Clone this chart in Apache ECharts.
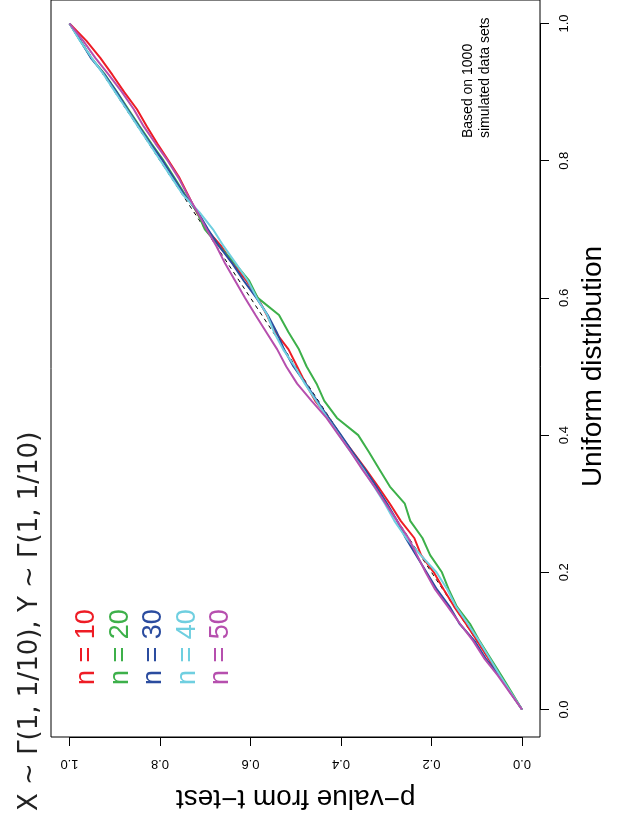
<!DOCTYPE html>
<html>
<head>
<meta charset="utf-8">
<script src="https://cdn.jsdelivr.net/npm/echarts@6/dist/echarts.min.js"></script>
<style>
  html, body { margin: 0; padding: 0; background: #fff; }
  #main { width: 641px; height: 825px; }
</style>
</head>
<body>
<div id="main"></div>
<script>
// quantiles of the uniform distribution (vertical axis), step 0.025
var uniformQ = [0, 0.025, 0.05, 0.075, 0.10, 0.125, 0.15, 0.175, 0.20, 0.225,
                0.25, 0.275, 0.30, 0.325, 0.35, 0.375, 0.40, 0.425, 0.45, 0.475,
                0.50, 0.525, 0.55, 0.575, 0.60, 0.625, 0.65, 0.675, 0.70, 0.725,
                0.75, 0.775, 0.80, 0.825, 0.85, 0.875, 0.90, 0.925, 0.95, 0.975, 1.0];
// sorted p-values from the t-test, one list per sample size
var pN10 = [0, 0.025, 0.050, 0.075, 0.099, 0.124, 0.150, 0.173, 0.195, 0.223,
            0.238, 0.268, 0.292, 0.318, 0.345, 0.373, 0.402, 0.427, 0.457, 0.478,
            0.497, 0.516, 0.545, 0.564, 0.584, 0.609, 0.639, 0.664, 0.697, 0.719,
            0.738, 0.757, 0.781, 0.806, 0.829, 0.851, 0.879, 0.905, 0.932, 0.963, 1.0];
var pN20 = [0, 0.023, 0.046, 0.070, 0.094, 0.115, 0.144, 0.162, 0.177, 0.203,
            0.220, 0.247, 0.259, 0.292, 0.315, 0.338, 0.362, 0.409, 0.437, 0.454,
            0.476, 0.493, 0.516, 0.537, 0.584, 0.603, 0.634, 0.669, 0.701, 0.718,
            0.744, 0.768, 0.792, 0.819, 0.845, 0.870, 0.895, 0.921, 0.952, 0.976, 1.0];
var pN30 = [0, 0.026, 0.051, 0.081, 0.105, 0.138, 0.160, 0.188, 0.211, 0.234,
            0.257, 0.276, 0.298, 0.322, 0.347, 0.374, 0.400, 0.427, 0.453, 0.478,
            0.505, 0.526, 0.542, 0.562, 0.587, 0.615, 0.640, 0.669, 0.694, 0.716,
            0.746, 0.770, 0.794, 0.821, 0.847, 0.872, 0.896, 0.922, 0.953, 0.976, 1.0];
var pN40 = [0, 0.025, 0.049, 0.072, 0.095, 0.120, 0.146, 0.165, 0.189, 0.224,
            0.256, 0.282, 0.303, 0.327, 0.351, 0.378, 0.404, 0.430, 0.455, 0.480,
            0.502, 0.528, 0.548, 0.563, 0.586, 0.606, 0.632, 0.659, 0.683, 0.713,
            0.749, 0.774, 0.799, 0.824, 0.849, 0.874, 0.899, 0.924, 0.951, 0.977, 1.0];
var pN50 = [0, 0.027, 0.054, 0.084, 0.108, 0.137, 0.164, 0.192, 0.213, 0.232,
            0.251, 0.276, 0.301, 0.326, 0.353, 0.378, 0.405, 0.432, 0.465, 0.497,
            0.521, 0.541, 0.565, 0.589, 0.612, 0.634, 0.656, 0.675, 0.697, 0.717,
            0.739, 0.759, 0.783, 0.810, 0.836, 0.858, 0.884, 0.913, 0.943, 0.970, 1.0];
var seriesNames = ['n = 10', 'n = 20', 'n = 30', 'n = 40', 'n = 50'];
var seriesColors = ['#EE1C25', '#3DB04A', '#2B4C9F', '#6FCFE0', '#B64FAE'];
var pLists = [pN10, pN20, pN30, pN40, pN50];
var tickValues = ['0.0', '0.2', '0.4', '0.6', '0.8', '1.0'];

var font = 'Liberation Sans, Arial, Helvetica, sans-serif';

function pairs(pList) {
    // x = p-value, y = uniform quantile
    return pList.map(function (p, i) { return [p, uniformQ[i]]; });
}

var series = [{
    type: 'line',
    xAxisIndex: 0,
    yAxisIndex: 0,
    data: [[0, 0], [1, 1]],
    showSymbol: false,
    silent: true,
    lineStyle: { color: '#000', width: 1, type: [4, 4] },
    z: 1
}];
pLists.forEach(function (pl, i) {
    series.push({
        name: seriesNames[i],
        type: 'line',
        xAxisIndex: 0,
        yAxisIndex: 0,
        data: pairs(pl),
        showSymbol: false,
        lineStyle: { color: seriesColors[i], width: 2 },
        itemStyle: { color: seriesColors[i] },
        z: 2 + i
    });
});

// legend written as rotated text, like the original
var graphics = seriesNames.map(function (name, i) {
    return {
        type: 'text',
        x: 87 + i * 33.5,
        y: 685,
        rotation: Math.PI / 2,
        style: {
            text: name,
            fill: seriesColors[i],
            font: '27px ' + font,
            align: 'left',
            verticalAlign: 'middle'
        }
    };
});
graphics.push({
    type: 'text',
    x: 30,
    y: 811,
    rotation: Math.PI / 2,
    style: {
        text: 'X ~ Γ(1, 1/10), Y ~ Γ(1, 1/10)',
        fill: '#222',
        font: '26px DejaVu Sans, sans-serif',
        align: 'left',
        verticalAlign: 'middle'
    }
});
graphics.push({
    type: 'text',
    x: 477,
    y: 138,
    rotation: Math.PI / 2,
    style: {
        text: 'Based on 1000\nsimulated data sets',
        fill: '#000',
        font: '14px ' + font,
        lineHeight: 17,
        align: 'left',
        verticalAlign: 'middle'
    }
});

var option = {
    animation: false,
    backgroundColor: '#fff',
    grid: [
        { left: 69.5, right: 119, top: 23.5, bottom: 115.5 },
        // frame around the plot region (4% wider than the data range)
        { left: 51, right: 101, top: -4, bottom: 88, show: true, borderColor: '#000', borderWidth: 1, backgroundColor: 'transparent' }
    ],
    xAxis: [
        {
            type: 'value',
            gridIndex: 0,
            min: 0,
            max: 1,
            interval: 0.2,
            inverse: true,
            position: 'bottom',
            offset: 27.5,
            axisLine: { show: true, onZero: false, lineStyle: { color: '#000', width: 1 } },
            axisTick: { show: true, length: 9, lineStyle: { color: '#000' } },
            splitLine: { show: false },
            axisLabel: {
                rotate: 180,
                margin: 20,
                fontSize: 13,
                fontFamily: font,
                color: '#000',
                formatter: function (v) { return tickValues[Math.round(v * 5)]; }
            },
            name: 'p−value from t−test',
            nameLocation: 'middle',
            nameRotate: 180,
            nameGap: 47,
            nameTextStyle: { fontSize: 28, fontFamily: font, color: '#000' }
        },
        { type: 'value', gridIndex: 1, show: false, min: 0, max: 1 }
    ],
    yAxis: [
        {
            type: 'value',
            gridIndex: 0,
            min: 0,
            max: 1,
            interval: 0.2,
            position: 'right',
            offset: 18,
            axisLine: { show: true, onZero: false, lineStyle: { color: '#000', width: 1 } },
            axisTick: { show: true, length: 9, lineStyle: { color: '#000' } },
            splitLine: { show: false },
            axisLabel: {
                rotate: 90,
                margin: 18,
                fontSize: 13,
                fontFamily: font,
                color: '#000',
                formatter: function (v) { return tickValues[Math.round(v * 5)]; }
            },
            name: 'Uniform distribution',
            nameLocation: 'middle',
            nameRotate: 90,
            nameGap: 39,
            nameTextStyle: { fontSize: 28, fontFamily: font, color: '#000' }
        },
        { type: 'value', gridIndex: 1, show: false, min: 0, max: 1 }
    ],
    series: series,
    graphic: graphics
};

var myChart = echarts.init(document.getElementById('main'));
myChart.setOption(option);
</script>
</body>
</html>
